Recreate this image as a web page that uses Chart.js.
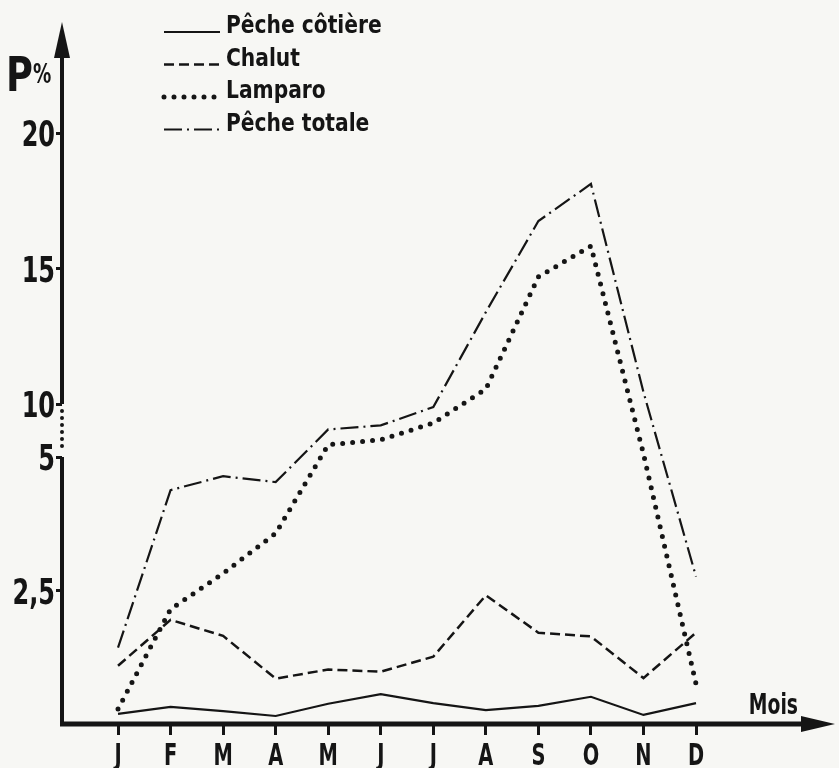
<!DOCTYPE html>
<html lang="fr">
<head>
<meta charset="UTF-8">
<title>Pêche – P% par mois</title>
<style>
    html, body { margin: 0; padding: 0; background: #f7f7f4; }
</style>
<script src="https://cdn.jsdelivr.net/npm/chart.js"></script>
</head>
<body>
<canvas id="graphique" width="839" height="768"></canvas>
<script>
    // Données (P% par mois)
    const MOIS = ['J', 'F', 'M', 'A', 'M', 'J', 'J', 'A', 'S', 'O', 'N', 'D'];
    const PECHE_COTIERE = [0.19, 0.32, 0.24, 0.15, 0.38, 0.56, 0.39, 0.26, 0.34, 0.51, 0.17, 0.39];
    const CHALUT = [1.09, 1.95, 1.65, 0.85, 1.02, 0.98, 1.26, 2.41, 1.71, 1.64, 0.86, 1.71];
    const LAMPARO = [0.28, 2.15, 2.82, 3.57, 6.15, 6.63, 8.2, 10.55, 14.69, 15.83, 5.29, 0.75];
    const PECHE_TOTALE = [1.43, 4.38, 4.64, 4.53, 7.6, 7.98, 9.71, 13.39, 16.75, 18.12, 10.44, 2.76];

    // Graduations de l'axe vertical (axe coupé entre 5 et 10)
    const TICKS_Y = [2.5, 5, 10, 15, 20];
    const ETIQUETTES_Y = ['2,5', '5', '10', '15', '20'];
    const AXE_VALEURS = [0, 5, 10, 20];
    const AXE_POSITIONS = [0, 267, 320, 591];
    const AXE_MAX = 702;

    const ENCRE = '#151515';
    const POLICE = '"DejaVu Sans Condensed", "DejaVu Sans", sans-serif';

    // valeur réelle -> position sur l'axe (échelle par morceaux)
    function versAxe(v) {
        for (let i = 1; i < AXE_VALEURS.length; i++) {
            if (v <= AXE_VALEURS[i] || i === AXE_VALEURS.length - 1) {
                const t = (v - AXE_VALEURS[i - 1]) / (AXE_VALEURS[i] - AXE_VALEURS[i - 1]);
                return AXE_POSITIONS[i - 1] + t * (AXE_POSITIONS[i] - AXE_POSITIONS[i - 1]);
            }
        }
    }

    function serie(valeurs) {
        return valeurs.map((v, i) => ({ x: i, y: versAxe(v) }));
    }

    // texte gras resserré (caractères étroits comme sur la figure)
    function texte(ctx, s, x, y, taille, sx, align) {
        ctx.save();
        ctx.font = 'bold ' + taille + 'px ' + POLICE;
        ctx.textAlign = align || 'left';
        ctx.textBaseline = 'alphabetic';
        ctx.fillStyle = ENCRE;
        ctx.translate(x, y);
        ctx.scale(sx, 1);
        ctx.fillText(s, 0, 0);
        ctx.restore();
    }

    const axesPlugin = {
        id: 'axesFleches',
        afterDraw(chart) {
            const { ctx, chartArea: a, scales: { x, y } } = chart;
            const x0 = a.left, y0 = a.bottom;
            const p10 = y.getPixelForValue(versAxe(10));
            const p5 = y.getPixelForValue(versAxe(5));
            ctx.save();
            ctx.strokeStyle = ENCRE;
            ctx.fillStyle = ENCRE;

            // axe vertical avec coupure en pointillés
            ctx.lineWidth = 4;
            ctx.beginPath(); ctx.moveTo(x0, a.top + 30); ctx.lineTo(x0, p10); ctx.stroke();
            ctx.beginPath(); ctx.moveTo(x0, p5); ctx.lineTo(x0, y0 + 2); ctx.stroke();
            ctx.lineCap = 'round';
            ctx.setLineDash([0, 7]);
            ctx.beginPath(); ctx.moveTo(x0, p10 + 7); ctx.lineTo(x0, p5 - 5); ctx.stroke();
            ctx.setLineDash([]);
            ctx.lineCap = 'butt';
            ctx.beginPath();
            ctx.moveTo(x0, a.top);
            ctx.lineTo(x0 - 8, a.top + 36);
            ctx.lineTo(x0 + 8, a.top + 36);
            ctx.closePath(); ctx.fill();

            // axe horizontal
            ctx.lineWidth = 5;
            ctx.beginPath(); ctx.moveTo(x0 - 2, y0); ctx.lineTo(a.right - 30, y0); ctx.stroke();
            ctx.beginPath();
            ctx.moveTo(a.right, y0);
            ctx.lineTo(a.right - 34, y0 - 8);
            ctx.lineTo(a.right - 34, y0 + 8);
            ctx.closePath(); ctx.fill();
            ctx.restore();

            // étiquettes des graduations
            TICKS_Y.forEach((v, i) => {
                texte(ctx, ETIQUETTES_Y[i], x0 - 7, y.getPixelForValue(versAxe(v)) + 13, 36, 0.74, 'right');
            });
            MOIS.forEach((m, i) => {
                texte(ctx, m, x.getPixelForValue(i), y0 + 41, 30, 0.72, 'center');
            });

            // titres des axes
            texte(ctx, 'P', 6, 91, 48, 0.85);
            texte(ctx, '%', 33, 83, 26, 0.78);
            texte(ctx, 'Mois', a.right - 37, y0 - 10, 29, 0.72, 'right');
        }
    };

    const legendePlugin = {
        id: 'legendeTraits',
        afterDraw(chart) {
            const ctx = chart.ctx;
            chart.data.datasets.forEach((ds, i) => {
                const base = 33 + i * 32.5;
                ctx.save();
                ctx.strokeStyle = ds.borderColor;
                ctx.lineWidth = ds.borderWidth;
                ctx.setLineDash(ds.borderDash || []);
                ctx.lineCap = ds.borderCapStyle || 'butt';
                ctx.beginPath();
                ctx.moveTo(164, base - 1);
                ctx.lineTo(220, base - 1);
                ctx.stroke();
                ctx.restore();
                texte(ctx, ds.label, 226, base, 25, 0.9);
            });
        }
    };

    const ctx = document.getElementById('graphique').getContext('2d');
    new Chart(ctx, {
        type: 'line',
        data: {
            datasets: [
                {
                    label: 'Pêche côtière',
                    data: serie(PECHE_COTIERE),
                    borderColor: ENCRE,
                    borderWidth: 2.2
                },
                {
                    label: 'Chalut',
                    data: serie(CHALUT),
                    borderColor: ENCRE,
                    borderWidth: 2.5,
                    borderDash: [10, 5]
                },
                {
                    label: 'Lamparo',
                    data: serie(LAMPARO),
                    borderColor: ENCRE,
                    borderWidth: 5,
                    borderDash: [0, 10],
                    borderCapStyle: 'round'
                },
                {
                    label: 'Pêche totale',
                    data: serie(PECHE_TOTALE),
                    borderColor: ENCRE,
                    borderWidth: 2.2,
                    borderDash: [18, 5, 2, 5]
                }
            ]
        },
        options: {
            responsive: false,
            animation: false,
            elements: {
                point: { radius: 0 },
                line: { tension: 0 }
            },
            layout: { padding: { top: 22, right: 4, left: 0, bottom: 0 } },
            plugins: {
                legend: { display: false },
                tooltip: { enabled: false }
            },
            scales: {
                x: {
                    type: 'linear',
                    min: -1.066,
                    max: 13.645,
                    border: { display: false },
                    grid: { drawOnChartArea: false, tickLength: 11, tickWidth: 3, color: ENCRE },
                    afterBuildTicks: s => { s.ticks = MOIS.map((m, i) => ({ value: i })); },
                    afterFit: s => { s.height = 44; },
                    ticks: { display: false, autoSkip: false, callback: (v, i) => MOIS[i] }
                },
                y: {
                    type: 'linear',
                    min: 0,
                    max: AXE_MAX,
                    border: { display: false },
                    grid: { drawOnChartArea: false, tickLength: 6, tickWidth: 3, color: ENCRE },
                    afterBuildTicks: s => { s.ticks = TICKS_Y.map(v => ({ value: versAxe(v) })); },
                    afterFit: s => { s.width = 62; },
                    ticks: { display: false, callback: (v, i) => ETIQUETTES_Y[i] }
                }
            }
        },
        plugins: [axesPlugin, legendePlugin]
    });
</script>
</body>
</html>
